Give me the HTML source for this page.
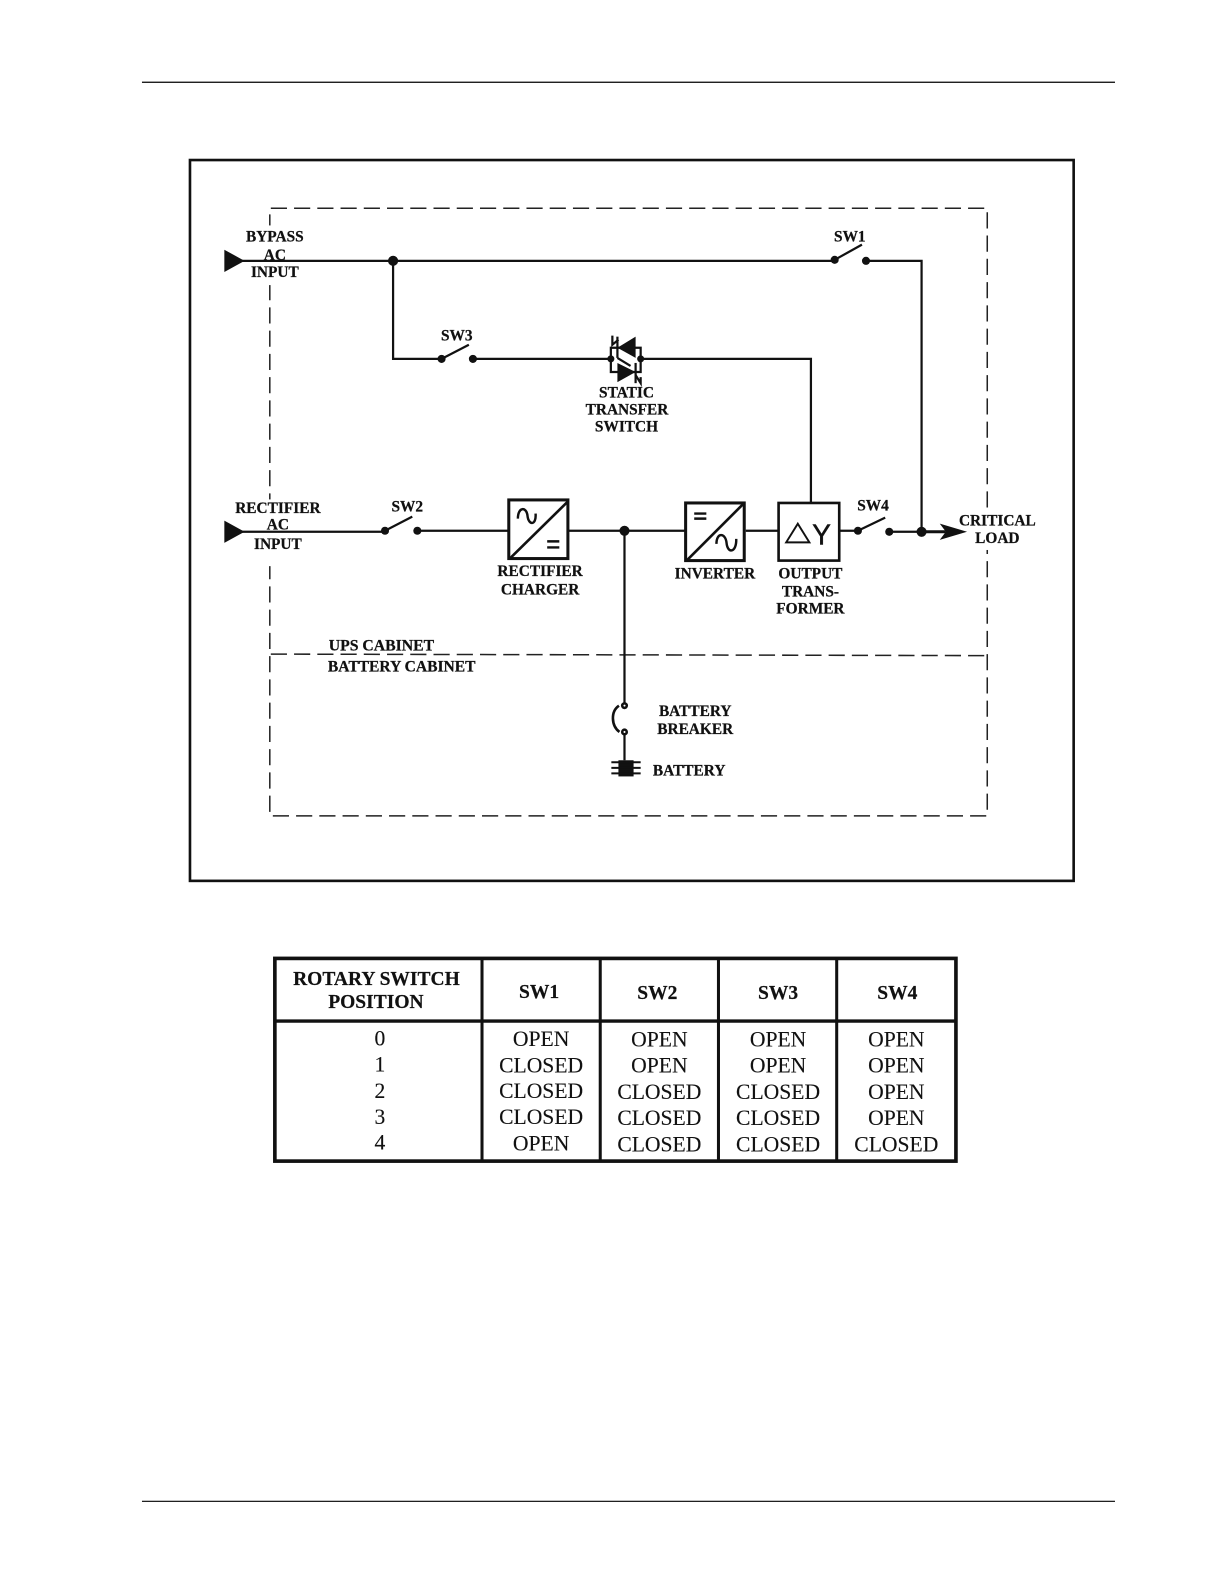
<!DOCTYPE html>
<html>
<head>
<meta charset="utf-8">
<style>
html,body{margin:0;padding:0;background:#fff;}
svg{display:block;}
text{font-family:"Liberation Serif",serif;fill:#111;transform:translateY(-1px);}
.l{font-size:15.2px;font-weight:bold;text-anchor:middle;stroke:#111;stroke-width:.25px;}
.h{font-size:19.3px;font-weight:bold;text-anchor:middle;stroke:#111;stroke-width:.2px;}
.t{font-size:21.4px;text-anchor:middle;stroke:#111;stroke-width:.12px;}
</style>
</head>
<body>
<svg width="1222" height="1584" viewBox="0 0 1209.3 1566.8" preserveAspectRatio="none" xmlns="http://www.w3.org/2000/svg">
<rect width="1222" height="1584" fill="#fff"/>
<line x1="140.500" y1="81.400" x2="1103.400" y2="81.400" stroke="#000" stroke-width="1.200"/>
<line x1="140.500" y1="1485" x2="1103.400" y2="1485" stroke="#000" stroke-width="1.200"/>
<rect x="188" y="158.300" width="874.500" height="713" fill="none" stroke="#111" stroke-width="2.600"/>

<!-- dashed cabinet -->
<g fill="none" stroke="#222" stroke-width="1.500" stroke-dasharray="16 7">
<path d="M268 206H977V807H267V206"/>
<line x1="268" y1="647" x2="977" y2="648.500"/>
</g>
<!-- gaps in dashes behind labels -->
<rect x="262" y="223" width="12" height="59" fill="#fff"/>
<rect x="262" y="494" width="12" height="66" fill="#fff"/>
<rect x="971" y="508" width="12" height="36" fill="#fff"/>

<!-- wires -->
<g fill="none" stroke="#111" stroke-width="2.200">
<path d="M232 258H826"/>
<path d="M857 258H912V526"/>
<path d="M389 258V355H437"/>
<path d="M468 355H604"/>
<path d="M634 355H802.500V497"/>
<path d="M232 526H381"/>
<path d="M413 525H503"/>
<path d="M563 525H678"/>
<path d="M738 525H770"/>
<path d="M831 525H849"/>
<path d="M880 526H912"/>
<path d="M912 526H936" stroke-width="3"/>
<path d="M618 525V698"/>
<path d="M618 724V752"/>
<!-- switch blades -->
<path d="M826 257L853 242"/>
<path d="M437 355L464 341"/>
<path d="M381 525L408 511"/>
<path d="M849 525L876 512"/>
<path d="M612.500 698C604 704 605 718 613 724" stroke-width="2.600"/>
</g>

<!-- arrowheads -->
<polygon points="222,247 242,258 222,269" fill="#111"/>
<polygon points="222,515 242,526 222,537" fill="#111"/>
<polygon points="930,518 957,526 930,534 936,526" fill="#111"/>

<!-- nodes -->
<g fill="#111">
<circle cx="389" cy="258" r="5"/>
<circle cx="826" cy="257" r="4"/>
<circle cx="857" cy="258" r="4"/>
<circle cx="437" cy="355" r="4"/>
<circle cx="468" cy="355" r="4"/>
<circle cx="381" cy="525" r="4"/>
<circle cx="413" cy="525" r="4"/>
<circle cx="849" cy="525" r="4"/>
<circle cx="880" cy="526" r="4"/>
<circle cx="912" cy="526" r="5"/>
<circle cx="618" cy="525" r="5"/>
<circle cx="604.500" cy="355" r="3.500"/>
<circle cx="634" cy="355" r="3.500"/>
<circle cx="618" cy="698" r="3.500"/>
<circle cx="618" cy="724" r="3.500"/>
</g>
<circle cx="618" cy="698" r="1" fill="#fff"/>
<circle cx="618" cy="724" r="1" fill="#fff"/>

<!-- static switch -->
<g stroke="#111" stroke-width="2.200" fill="none">
<path d="M604.500 355V344H634V368H604.500V355"/>
<path d="M606 332V341L612 336"/>
<path d="M611 333V354"/>
<path d="M629 359V379"/>
<path d="M629 371L634 379V373"/>
<path d="M611 354L624 362"/>
</g>
<polygon points="611,344 629,333 629,354" fill="#111"/>
<polygon points="611,359 611,378 629,368" fill="#111"/>

<!-- rectifier -->
<g fill="none" stroke="#111">
<rect x="503.500" y="494.500" width="58.500" height="58" stroke-width="3"/>
<line x1="505" y1="552" x2="562" y2="496" stroke-width="2.600"/>
<path d="M512.500 513C512.500 501 521 501 522 510C523 520 531 520 530 508" stroke-width="2.400"/>
<path d="M541.500 535.500H553.500M541.500 541.500H553.500" stroke-width="2.400"/>
<!-- inverter -->
<rect x="678.500" y="497.500" width="58" height="57" stroke-width="3"/>
<line x1="680" y1="554" x2="736" y2="498" stroke-width="2.600"/>
<path d="M687 508H699M687 513H699" stroke-width="2.400"/>
<path d="M709 538C709 526 718 527 719 537C720 548 729 547 728.600 533" stroke-width="2.400"/>
<!-- transformer -->
<rect x="770.500" y="497.500" width="60" height="57" stroke-width="2.600"/>
<polygon points="778,536.500 801,536.500 789.500,518" stroke-width="1.900"/>
</g>
<text x="813" y="538.500" font-size="28" style="font-family:'Liberation Sans',sans-serif;stroke:#111;stroke-width:.4px;transform:none" text-anchor="middle">Y</text>

<!-- battery -->
<rect x="612" y="752" width="15" height="16" fill="#111"/>
<g stroke="#111" stroke-width="2">
<line x1="605" y1="754" x2="634" y2="754"/>
<line x1="605" y1="759.500" x2="634" y2="759.500"/>
<line x1="605" y1="765" x2="634" y2="765"/>
</g>

<!-- labels -->
<text class="l" x="272" y="240">BYPASS</text>
<text class="l" x="272" y="258">AC</text>
<text class="l" x="272" y="275">INPUT</text>
<text class="l" x="841" y="240">SW1</text>
<text class="l" x="452" y="338">SW3</text>
<text class="l" x="620" y="394">STATIC</text>
<text class="l" x="620.500" y="411">TRANSFER</text>
<text class="l" x="620" y="428">SWITCH</text>
<text class="l" x="275" y="508.500">RECTIFIER</text>
<text class="l" x="275" y="525">AC</text>
<text class="l" x="275" y="544">INPUT</text>
<text class="l" x="403" y="507">SW2</text>
<text class="l" x="864" y="506">SW4</text>
<text class="l" x="987" y="521">CRITICAL</text>
<text class="l" x="987" y="538">LOAD</text>
<text class="l" x="534.500" y="571">RECTIFIER</text>
<text class="l" x="534.500" y="589">CHARGER</text>
<text class="l" x="707.500" y="573">INVERTER</text>
<text class="l" x="802" y="573">OUTPUT</text>
<text class="l" x="802" y="591">TRANS-</text>
<text class="l" x="802" y="608">FORMER</text>
<text class="l" x="377.500" y="644.500" style="font-size:15.6px">UPS CABINET</text>
<text class="l" x="397.500" y="665" style="font-size:15.4px">BATTERY CABINET</text>
<text class="l" x="688" y="709">BATTERY</text>
<text class="l" x="688" y="727">BREAKER</text>
<text class="l" x="682" y="768">BATTERY</text>

<!-- table -->
<g fill="none" stroke="#111">
<rect x="272" y="948" width="674" height="200.500" stroke-width="3.600"/>
<line x1="272" y1="1010" x2="946" y2="1010" stroke-width="3.400"/>
<line x1="477" y1="948" x2="477" y2="1148" stroke-width="3"/>
<line x1="594" y1="948" x2="594" y2="1148" stroke-width="3"/>
<line x1="711" y1="948" x2="711" y2="1148" stroke-width="3"/>
<line x1="828" y1="948" x2="828" y2="1148" stroke-width="3"/>
</g>
<text class="h" x="372.500" y="975.500">ROTARY SWITCH</text>
<text class="h" x="372" y="998">POSITION</text>
<text class="h" x="533.500" y="988">SW1</text>
<text class="h" x="650.500" y="989">SW2</text>
<text class="h" x="770" y="989">SW3</text>
<text class="h" x="888" y="989">SW4</text>

<text class="t" x="376" y="1035">0</text>
<text class="t" x="376" y="1061">1</text>
<text class="t" x="376" y="1087">2</text>
<text class="t" x="376" y="1113">3</text>
<text class="t" x="376" y="1138">4</text>

<text class="t" x="535.500" y="1035.500">OPEN</text>
<text class="t" x="535.500" y="1062">CLOSED</text>
<text class="t" x="535.500" y="1087">CLOSED</text>
<text class="t" x="535.500" y="1113">CLOSED</text>
<text class="t" x="535.500" y="1139">OPEN</text>

<text class="t" x="652.500" y="1036">OPEN</text>
<text class="t" x="652.500" y="1062">OPEN</text>
<text class="t" x="652.500" y="1088">CLOSED</text>
<text class="t" x="652.500" y="1114">CLOSED</text>
<text class="t" x="652.500" y="1140">CLOSED</text>

<text class="t" x="770" y="1036">OPEN</text>
<text class="t" x="770" y="1062">OPEN</text>
<text class="t" x="770" y="1088">CLOSED</text>
<text class="t" x="770" y="1114">CLOSED</text>
<text class="t" x="770" y="1140">CLOSED</text>

<text class="t" x="887" y="1036">OPEN</text>
<text class="t" x="887" y="1062">OPEN</text>
<text class="t" x="887" y="1088">OPEN</text>
<text class="t" x="887" y="1114">OPEN</text>
<text class="t" x="887" y="1140">CLOSED</text>
</svg>
</body>
</html>
